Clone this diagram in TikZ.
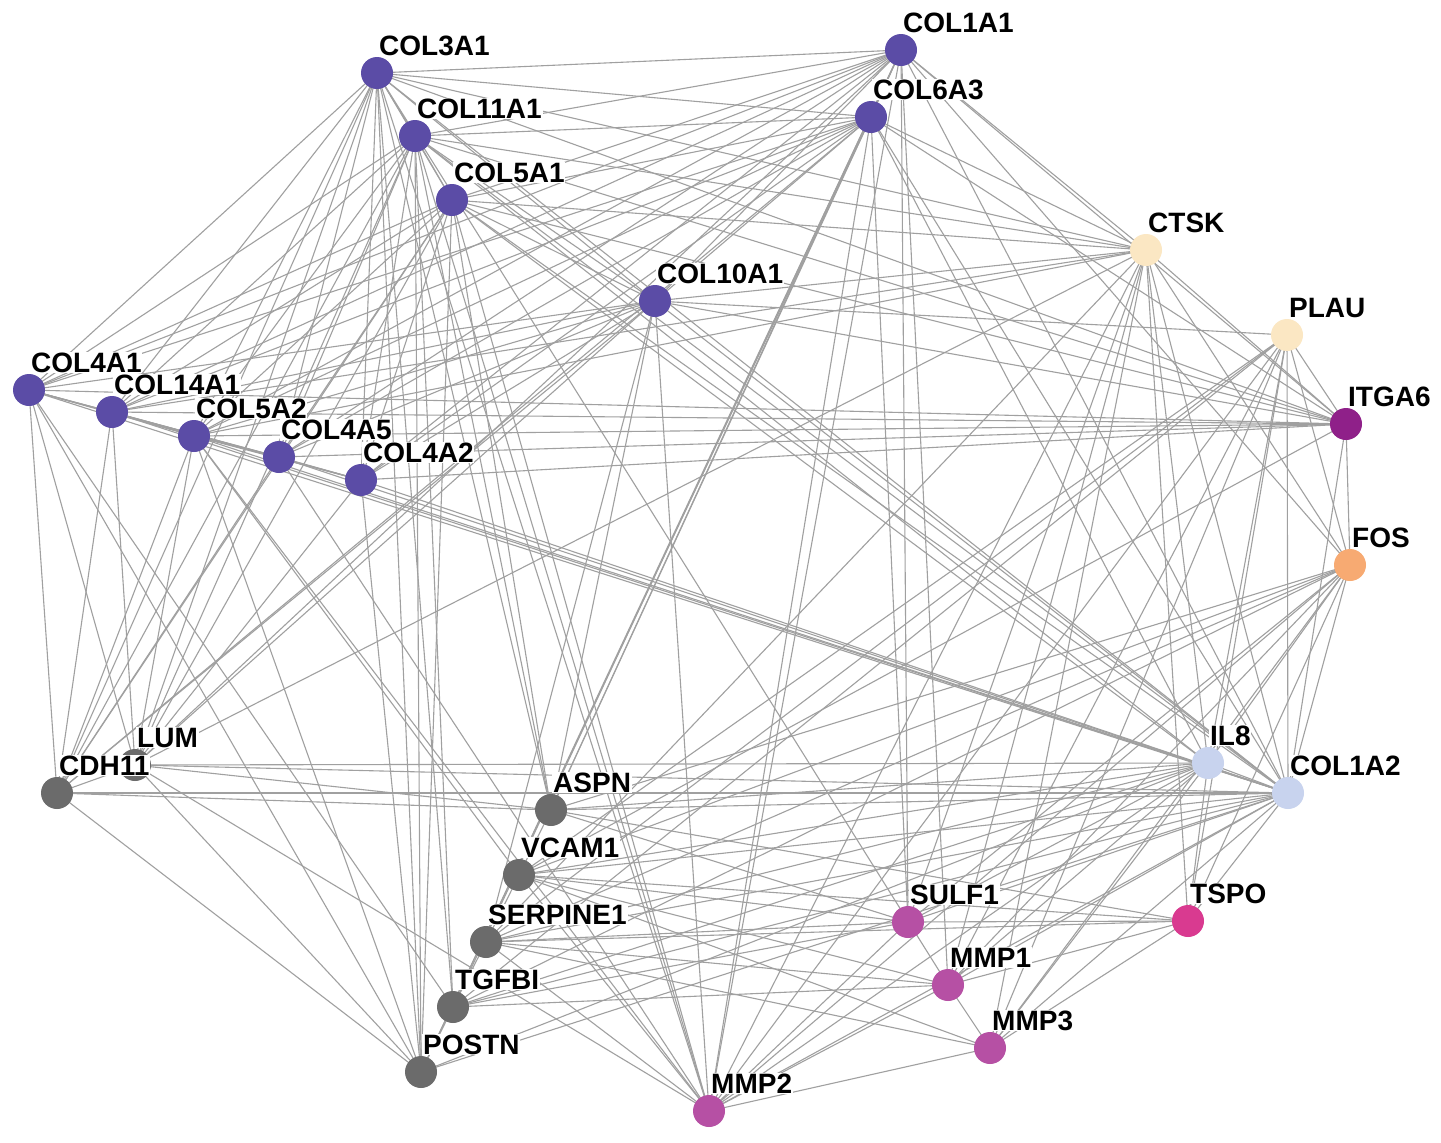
\documentclass[tikz,border=0pt]{standalone}
\usepackage{fontspec}
\setmainfont{Liberation Sans}
\pgfdeclarelayer{bg}
\pgfsetlayers{bg,main}
\definecolor{pur}{HTML}{5B4CA6}
\definecolor{gry}{HTML}{6B6B6B}
\definecolor{crm}{HTML}{FBE7C3}
\definecolor{itg}{HTML}{8F2089}
\definecolor{fosc}{HTML}{F7AA72}
\definecolor{lbl}{HTML}{C8D3EE}
\definecolor{tsp}{HTML}{D93A90}
\definecolor{mmp}{HTML}{B650A4}
\definecolor{edgec}{HTML}{A0A0A0}
\begin{document}
\begin{tikzpicture}[x=0.5pt,y=-0.5pt,
  gn/.style={circle,inner sep=0pt,minimum size=16pt,draw=none},
  ed/.style={draw=edgec,line width=0.55pt},
  lab/.style={fill=white,inner sep=0.4pt,anchor=base west,font=\bfseries\fontsize{14}{16}\selectfont}]
\path[use as bounding box] (0,0) rectangle (1441,1142);
% nodes
\node[gn,fill=pur] (c3) at (377,73) {};
\node[gn,fill=pur] (c1) at (901,50) {};
\node[gn,fill=pur] (c11) at (415,136) {};
\node[gn,fill=pur] (c6) at (871,117) {};
\node[gn,fill=pur] (c5) at (452,200) {};
\node[gn,fill=crm] (ctsk) at (1146,250) {};
\node[gn,fill=pur] (c10) at (655,301) {};
\node[gn,fill=crm] (plau) at (1287,335) {};
\node[gn,fill=pur] (c41) at (29,390) {};
\node[gn,fill=pur] (c14) at (112,412) {};
\node[gn,fill=pur] (c52) at (194,436) {};
\node[gn,fill=pur] (c45) at (279,457) {};
\node[gn,fill=pur] (c42) at (361,480) {};
\node[gn,fill=itg] (itga) at (1346,424) {};
\node[gn,fill=fosc] (fos) at (1350,565) {};
\node[gn,fill=gry] (lum) at (135,765) {};
\node[gn,fill=gry] (cdh) at (57,793) {};
\node[gn,fill=lbl] (il8) at (1208,763) {};
\node[gn,fill=lbl] (c12) at (1288,793) {};
\node[gn,fill=gry] (aspn) at (551,810) {};
\node[gn,fill=gry] (vcam) at (519,875) {};
\node[gn,fill=mmp] (sulf) at (908,922) {};
\node[gn,fill=tsp] (tspo) at (1188,921) {};
\node[gn,fill=gry] (serp) at (486,942) {};
\node[gn,fill=mmp] (mmp1) at (948,985) {};
\node[gn,fill=gry] (tgfbi) at (453,1007) {};
\node[gn,fill=mmp] (mmp3) at (990,1048) {};
\node[gn,fill=gry] (postn) at (421,1072) {};
\node[gn,fill=mmp] (mmp2) at (709,1111) {};
% edges
\begin{pgfonlayer}{bg}
\fill[white] (0,0) rectangle (1441,1142);
\foreach \t in {c1,c11,c6,c5,c10,c41,c14,c52,c45,c42,c12,ctsk,itga,lum,cdh,aspn,tgfbi,postn,mmp2,mmp1} \draw[ed] (c3.center)--(\t.center);
\foreach \t in {c11,c6,c5,c10,c41,c14,c52,c45,c42,c12,ctsk,itga,fos,aspn,sulf,mmp1,mmp2,tgfbi,postn,lum} \draw[ed] (c1.center)--(\t.center);
\foreach \t in {c6,c5,c10,c41,c14,c52,c45,c42,c12,ctsk,itga,cdh,lum,aspn,postn,tgfbi,mmp2,il8} \draw[ed] (c11.center)--(\t.center);
\foreach \t in {c5,c10,c41,c14,c52,c45,c42,c12,ctsk,itga,aspn,mmp2,sulf,cdh,il8,postn} \draw[ed] (c6.center)--(\t.center);
\foreach \t in {c10,c41,c14,c52,c45,c42,c12,ctsk,itga,cdh,lum,aspn,mmp2,postn,il8} \draw[ed] (c5.center)--(\t.center);
\foreach \t in {c41,c14,c52,c45,c42,c12,ctsk,itga,plau,lum,cdh,aspn,mmp2,serp} \draw[ed] (c10.center)--(\t.center);
\foreach \t in {c14,c52,c45,c42,c12,itga,cdh,postn,tgfbi,lum} \draw[ed] (c41.center)--(\t.center);
\foreach \t in {c52,c45,c42,c12,itga,lum,cdh,ctsk} \draw[ed] (c14.center)--(\t.center);
\foreach \t in {c45,c42,c12,itga,cdh,lum,postn,vcam,mmp2,ctsk} \draw[ed] (c52.center)--(\t.center);
\foreach \t in {c42,c12,itga,cdh,mmp2} \draw[ed] (c45.center)--(\t.center);
\foreach \t in {c12,itga,postn,lum} \draw[ed] (c42.center)--(\t.center);
\foreach \t in {ctsk,plau,itga,fos,il8,tspo,mmp1,mmp3,mmp2,sulf,serp,vcam,tgfbi,postn,aspn,cdh,lum} \draw[ed] (c12.center)--(\t.center);
\foreach \t in {itga,fos,il8,mmp1,mmp3,mmp2,sulf,tspo,lum,serp} \draw[ed] (ctsk.center)--(\t.center);
\foreach \t in {itga,fos,il8,tspo,mmp1,mmp3,mmp2,serp,vcam,tgfbi} \draw[ed] (plau.center)--(\t.center);
\foreach \t in {fos,vcam} \draw[ed] (itga.center)--(\t.center);
\foreach \t in {il8,tspo,mmp1,mmp3,mmp2,aspn,vcam,serp,tgfbi,sulf} \draw[ed] (fos.center)--(\t.center);
\foreach \t in {tspo,mmp1,mmp3,mmp2,sulf,serp,vcam,tgfbi,postn,aspn,lum} \draw[ed] (il8.center)--(\t.center);
\foreach \t in {cdh,lum,vcam,sulf,tspo} \draw[ed] (aspn.center)--(\t.center);
\foreach \t in {lum,postn} \draw[ed] (cdh.center)--(\t.center);
\foreach \t in {tspo,sulf,mmp1,mmp3,mmp2,serp} \draw[ed] (vcam.center)--(\t.center);
\foreach \t in {tspo,sulf,mmp1,mmp3,mmp2,tgfbi} \draw[ed] (serp.center)--(\t.center);
\foreach \t in {postn,sulf,mmp1} \draw[ed] (tgfbi.center)--(\t.center);
\foreach \t in {postn,mmp2} \draw[ed] (lum.center)--(\t.center);
\foreach \t in {tspo,mmp2} \draw[ed] (sulf.center)--(\t.center);
\foreach \t in {mmp1,mmp3} \draw[ed] (tspo.center)--(\t.center);
\foreach \t in {mmp3,mmp2} \draw[ed] (mmp1.center)--(\t.center);
\draw[ed] (mmp3.center)--(mmp2.center);
\end{pgfonlayer}
% labels
\foreach \n/\txt in {c3/COL3A1,c1/COL1A1,c11/COL11A1,c6/COL6A3,c5/COL5A1,ctsk/CTSK,c10/COL10A1,plau/PLAU,
  c41/COL4A1,c14/COL14A1,c52/COL5A2,c45/COL4A5,c42/COL4A2,itga/ITGA6,fos/FOS,lum/LUM,cdh/CDH11,
  il8/IL8,c12/COL1A2,aspn/ASPN,vcam/VCAM1,sulf/SULF1,tspo/TSPO,serp/SERPINE1,mmp1/MMP1,tgfbi/TGFBI,
  mmp3/MMP3,postn/POSTN,mmp2/MMP2}
  \node[lab] (l-\n) at ([shift={(0.5pt,9pt)}]\n.center) {\txt};
\end{tikzpicture}
\end{document}
